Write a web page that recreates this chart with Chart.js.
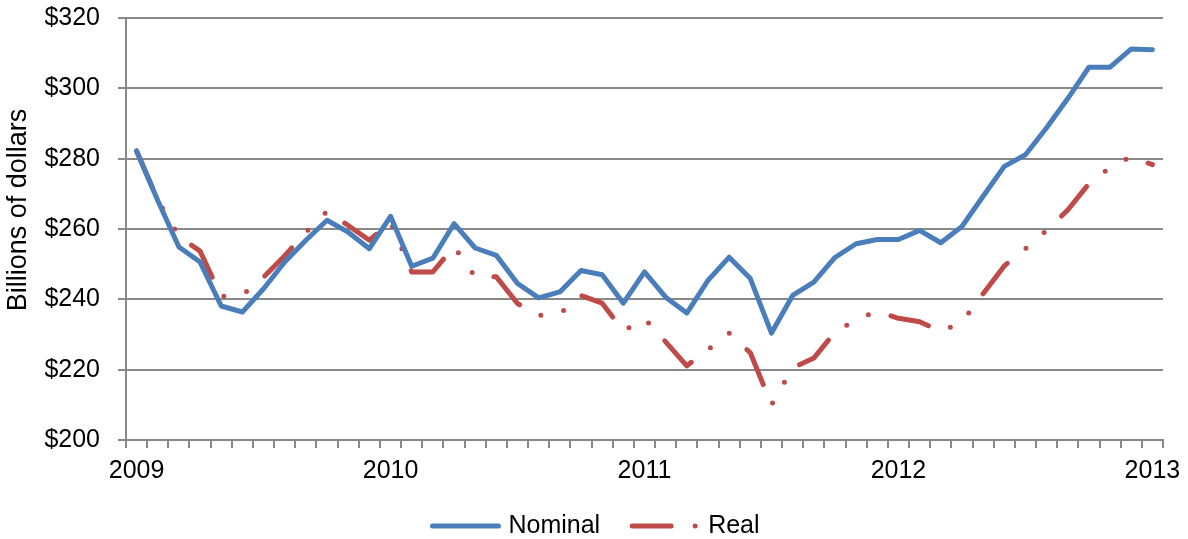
<!DOCTYPE html>
<html>
<head>
<meta charset="utf-8">
<script src="https://cdn.jsdelivr.net/npm/chart.js@4.4.0/dist/chart.umd.min.js"></script>
<style>
  html, body { margin: 0; padding: 0; background: #fff; }
</style>
</head>
<body>
<canvas id="chart" width="1188" height="539"></canvas>
<script>
// Monthly categories, Jan 2009 .. Jan 2013
const years = ['2009', '2010', '2011', '2012', '2013'];
const months = ['Jan', 'Feb', 'Mar', 'Apr', 'May', 'Jun', 'Jul', 'Aug', 'Sep', 'Oct', 'Nov', 'Dec'];
const categories = [];
years.forEach((y) => months.forEach((m) => categories.push(m + ' ' + y)));
categories.length = 49;

// Billions of dollars
const nominal = [
  282.2, 268.1, 254.9, 250.6, 238.1, 236.4, 243.0, 250.6, 256.8, 262.5, 259.1, 254.4,
  263.6, 249.4, 251.7, 261.5, 254.6, 252.5, 244.5, 240.4, 242.1, 248.2, 247.0, 238.9,
  247.8, 240.6, 236.1, 245.4, 252.0, 245.9, 230.4, 241.1, 244.9, 251.9, 255.8, 257.0,
  257.0, 259.6, 256.1, 260.7, 269.3, 277.8, 281.1, 288.8, 297.1, 306.0, 306.0, 311.2,
  311.0,
];
const real = [
  282.2, 268.3, 257.9, 253.7, 240.8, 241.2, 246.3, 252.4, 259.1, 265.0, 261.0, 256.8,
  262.0, 247.8, 247.8, 255.0, 246.4, 246.4, 238.8, 235.4, 235.9, 241.1, 238.9, 231.0,
  234.5, 227.9, 221.1, 225.7, 230.4, 224.8, 210.0, 220.5, 223.3, 230.7, 234.2, 236.6,
  234.6, 233.6, 230.9, 233.5, 241.6, 249.5, 254.4, 259.6, 265.4, 272.9, 277.5, 280.6,
  278.3,
];

const yTitle = 'Billions of dollars';
const fontFamily = '"Liberation Sans", Arial, sans-serif';
const axisGray = '#898989';

// Y axis title, drawn so it can sit where the original has it
const yTitlePlugin = {
  id: 'yTitle',
  afterDraw(chart) {
    const ctx = chart.ctx;
    ctx.save();
    ctx.translate(19, 210);
    ctx.rotate(-Math.PI / 2);
    ctx.font = '27px ' + fontFamily;
    ctx.fillStyle = '#000';
    ctx.textAlign = 'center';
    ctx.textBaseline = 'middle';
    ctx.fillText(yTitle, 0, 0);
    ctx.restore();
  },
};

// Legend below the axis, using each dataset's own line style
const bottomLegend = {
  id: 'bottomLegend',
  afterDraw(chart) {
    const ctx = chart.ctx;
    const y = 526;
    const sample = 66, textGap = 10, itemGap = 32;
    ctx.save();
    ctx.font = '25px ' + fontFamily;
    const items = chart.data.datasets.map((ds) => ({ ds, w: ctx.measureText(ds.label).width }));
    const total = items.reduce((s, it) => s + sample + textGap + it.w, 0) + itemGap * (items.length - 1);
    let x = chart.width / 2 - total / 2 + 2;
    items.forEach(({ ds, w }) => {
      ctx.beginPath();
      ctx.strokeStyle = ds.borderColor;
      ctx.lineWidth = ds.borderWidth;
      ctx.lineCap = 'round';
      ctx.setLineDash(ds.borderDash || []);
      ctx.moveTo(x, y);
      ctx.lineTo(x + sample, y);
      ctx.stroke();
      ctx.setLineDash([]);
      ctx.fillStyle = '#000';
      ctx.textAlign = 'left';
      ctx.textBaseline = 'middle';
      ctx.fillText(ds.label, x + sample + textGap, y);
      x += sample + textGap + w + itemGap;
    });
    ctx.restore();
  },
};

new Chart(document.getElementById('chart'), {
  type: 'line',
  data: {
    labels: categories,
    datasets: [
      {
        label: 'Nominal',
        data: nominal,
        borderColor: '#4A7EBB',
        borderWidth: 5,
        borderCapStyle: 'round',
        borderJoinStyle: 'round',
        pointRadius: 0,
        tension: 0,
        fill: false,
      },
      {
        label: 'Real',
        data: real,
        borderColor: '#BE4B48',
        borderWidth: 5,
        borderDash: [39, 24, 0, 24, 0, 24],
        borderCapStyle: 'round',
        borderJoinStyle: 'round',
        pointRadius: 0,
        tension: 0,
        fill: false,
      },
    ],
  },
  options: {
    responsive: false,
    devicePixelRatio: 1,
    animation: false,
    layout: {
      padding: { left: 0, right: 25, top: 18, bottom: 55 },
    },
    scales: {
      x: {
        offset: true,
        grid: {
          offset: true,
          drawOnChartArea: false,
          color: axisGray,
          lineWidth: 2,
          tickLength: 8,
        },
        border: { color: axisGray, width: 2 },
        ticks: {
          autoSkip: false,
          maxRotation: 0,
          padding: 8,
          color: '#000',
          font: { size: 25, family: fontFamily },
          callback: function (value) {
            const label = this.getLabelForValue(value);
            return label.startsWith('Jan') ? label.slice(4) : '';
          },
        },
        afterFit: (scale) => {
          scale.height = 44;
          scale.paddingLeft = 0;
          scale.paddingRight = 0;
        },
      },
      y: {
        min: 200,
        max: 320,
        grid: {
          color: axisGray,
          lineWidth: 2,
          tickLength: 8,
        },
        border: { color: axisGray, width: 2 },
        ticks: {
          stepSize: 20,
          padding: 18,
          color: '#000',
          font: { size: 25, family: fontFamily },
          callback: (value) => '$' + value,
        },
        afterFit: (scale) => {
          scale.width = 126;
          scale.paddingTop = 0;
          scale.paddingBottom = 0;
        },
      },
    },
    plugins: {
      legend: { display: false },
      tooltip: { enabled: false },
    },
  },
  plugins: [yTitlePlugin, bottomLegend],
});
</script>
</body>
</html>
